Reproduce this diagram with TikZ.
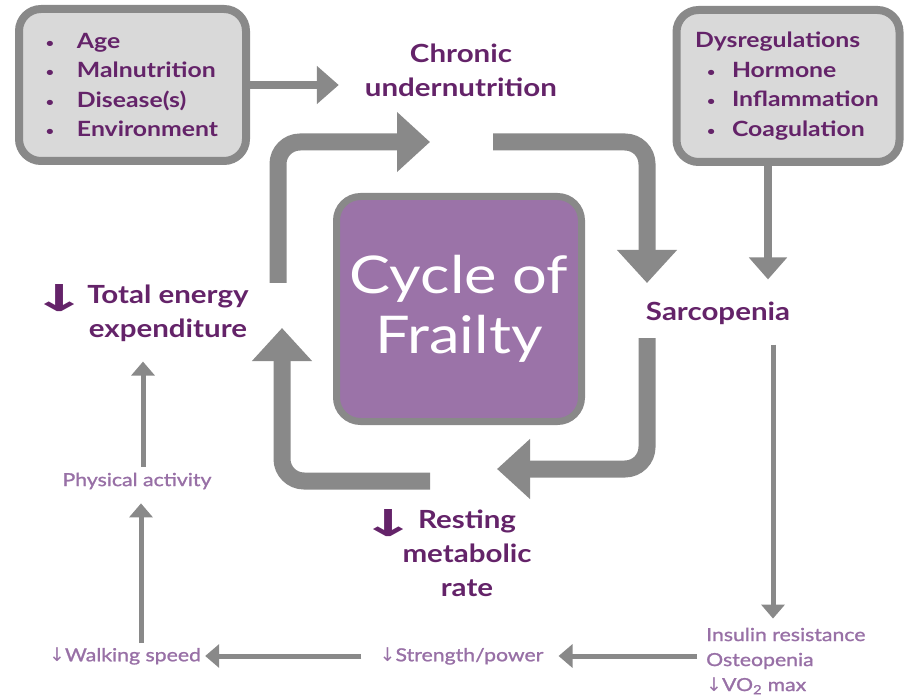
\documentclass[tikz,border=0pt]{standalone}
\usepackage{fontspec}
\usepackage{graphicx}
\setmainfont{Lato}[FakeStretch=1.18]
\newfontfamily\subfont{Lato}[FakeStretch=1.18, FakeBold=1.2]
\newfontfamily\arrowfont{DejaVu Sans}
\usetikzlibrary{arrows.meta,calc}
\definecolor{dpurple}{RGB}{100,35,105}
\definecolor{lpurple}{RGB}{152,112,166}
\definecolor{agray}{RGB}{137,137,137}
\definecolor{boxfill}{RGB}{217,217,217}
\definecolor{cfill}{RGB}{155,115,168}
\newcommand{\bul}[1]{\makebox[#1][l]{\hspace*{1pt}\raisebox{1pt}{\fontsize{12}{12}\selectfont\textbullet}}}
\newcommand{\bigdown}{\raisebox{-8pt}{\resizebox{56pt}{27pt}{\arrowfont\bfseries ↓}}}
\newcommand{\smalldown}{{\arrowfont\fontsize{19}{25}\selectfont ↓}}
\begin{document}
\begin{tikzpicture}[x=1pt,y=-1pt,
  gbox/.style={draw=agray, line width=8pt, fill=boxfill, rounded corners=22pt,
    minimum width=227pt, minimum height=152pt, align=left, text=dpurple,
    font=\bfseries\fontsize{21}{29.5}\selectfont},
  cbox/.style={draw=agray, line width=7pt, fill=cfill, rounded corners=24pt,
    minimum width=245pt, minimum height=225pt, text=white, align=center,
    font=\fontsize{52}{60}\selectfont},
  lab/.style={text=dpurple, font=\bfseries\fontsize{25}{34}\selectfont, align=center, inner sep=4pt},
  sub/.style={text=lpurple, font=\subfont\fontsize{18}{25}\selectfont, inner sep=4pt},
  cyc/.style={draw=agray, line width=17pt, rounded corners=22pt, -{Triangle[length=33pt,width=58pt]}},
  bigarr/.style={draw=agray, line width=8pt, -{Triangle[length=22pt,width=37pt]}},
  thinarr/.style={draw=agray, line width=5pt, -{Triangle[length=14pt,width=23pt]}}
]
\useasboundingbox (0,0) rectangle (904,700);

% boxes
\node[gbox, text width=175pt] (agebox) at (132.5,85) {\bul{32pt}Age\\ \bul{32pt}Malnutrition\\ \bul{32pt}Disease(s)\\ \bul{32pt}Environment};
\node[gbox, minimum width=223pt, text width=186pt] (dysbox) at (788,86) {Dysregulations\\ \hspace*{11pt}\bul{26pt}Hormone\\ \hspace*{11pt}\bul{26pt}Inflammation\\ \hspace*{11pt}\bul{26pt}Coagulation};
\node[cbox] (cycle) at (459,309) {Cycle of\\Frailty};

% labels
\node[lab] (chronic) at (461,70) {Chronic\\undernutrition};
\node[lab] (sarc) at (718,313) {Sarcopenia};
\node[lab] (total) at (168,313) {\llap{\smash{\bigdown}\hspace{0pt}}Total energy\\expenditure};
\node[lab] (rest) at (467,553) {\llap{\smash{\bigdown}\hspace{1.5pt}}Resting\\metabolic\\rate};

\node[sub] (phys) at (137,481) {Physical activity};
\node[sub] (walk) at (125,656) {\smalldown Walking speed};
\node[sub] (str) at (461.5,656) {\smalldown Strength/power};
\node[sub, align=left, anchor=west] (ins) at (702,661) {Insulin resistance\\Osteopenia\\\smalldown VO\textsubscript{2} max};

% cycle arrows
\coordinate (p1) at (278,283); \coordinate (q1) at (430,142);
\coordinate (p2) at (493,142); \coordinate (q2) at (647,283);
\coordinate (p3) at (647,338); \coordinate (q3) at (497,469);
\coordinate (p4) at (430,481); \coordinate (q4) at (282,328);
\draw[cyc] (p1) |- (q1);
\draw[cyc] (p2) -| (q2);
\draw[cyc] (p3) |- (q3);
\draw[cyc] (p4) -| (q4);

% straight connectors
\draw[bigarr, shorten >=22pt] (agebox.east) -- (agebox.east -| chronic.west);
\draw[bigarr, shorten >=18pt] ([xshift=-20pt]dysbox.south) -- ([xshift=-20pt]dysbox.south |- sarc.north);
\draw[thinarr, shorten <=16pt, shorten >=5pt] ([xshift=55pt]sarc.south) -- ([xshift=55pt]sarc.south |- ins.north);
\draw[thinarr, shorten <=5pt, shorten >=11pt] (ins.west |- str.east) -- (str.east);
\draw[thinarr, shorten <=14pt] (str.west) -- (walk.east);
\draw[thinarr, shorten >=10pt] ([xshift=16pt]walk.north) -- ([xshift=16pt]walk.north |- phys.south);
\draw[thinarr, shorten <=2pt, shorten >=16pt] ([xshift=6pt]phys.north) -- ([xshift=6pt]phys.north |- total.south);
\end{tikzpicture}
\end{document}
